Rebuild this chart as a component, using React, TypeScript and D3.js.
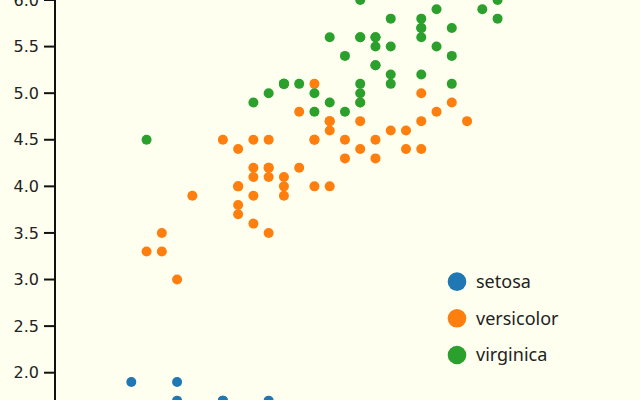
import React from "react";
import * as d3 from "d3";

const species = ["setosa", "versicolor", "virginica"];
const colors = ["#1f77b4", "#ff7f0e", "#2ca02c"];

const setosaSepal = [5.1,4.9,4.7,4.6,5.0,5.4,4.6,5.0,4.4,4.9,5.4,4.8,4.8,4.3,5.8,5.7,5.4,5.1,5.7,5.1,5.4,5.1,4.6,5.1,4.8,5.0,5.0,5.2,5.2,4.7,4.8,5.4,5.2,5.5,4.9,5.0,5.5,4.9,4.4,5.1,5.0,4.5,4.4,5.0,5.1,4.8,5.1,4.6,5.3,5.0];
const setosaPetal = [1.4,1.4,1.3,1.5,1.4,1.7,1.4,1.5,1.4,1.5,1.5,1.6,1.4,1.1,1.2,1.5,1.3,1.4,1.7,1.5,1.7,1.5,1.0,1.7,1.9,1.6,1.6,1.5,1.4,1.6,1.6,1.5,1.5,1.4,1.5,1.2,1.3,1.4,1.3,1.5,1.3,1.3,1.3,1.6,1.9,1.4,1.6,1.4,1.5,1.4];
const versicolorSepal = [7.0,6.4,6.9,5.5,6.5,5.7,6.3,4.9,6.6,5.2,5.0,5.9,6.0,6.1,5.6,6.7,5.6,5.8,6.2,5.6,5.9,6.1,6.3,6.1,6.4,6.6,6.8,6.7,6.0,5.7,5.5,5.5,5.8,6.0,5.4,6.0,6.7,6.3,5.6,5.5,5.5,6.1,5.8,5.0,5.6,5.7,5.7,6.2,5.1,5.7];
const versicolorPetal = [4.7,4.5,4.9,4.0,4.6,4.5,4.7,3.3,4.6,3.9,3.5,4.2,4.0,4.7,3.6,4.4,4.5,4.1,4.5,3.9,4.8,4.0,4.9,4.7,4.3,4.4,4.8,5.0,4.5,3.5,3.8,3.7,3.9,5.1,4.5,4.5,4.7,4.4,4.1,4.0,4.4,4.6,4.0,3.3,4.2,4.2,4.2,4.3,3.0,4.1];
const virginicaSepal = [6.3,5.8,7.1,6.3,6.5,7.6,4.9,7.3,6.7,7.2,6.5,6.4,6.8,5.7,5.8,6.4,6.5,7.7,7.7,6.0,6.9,5.6,7.7,6.3,6.7,7.2,6.2,6.1,6.4,7.2,7.4,7.9,6.4,6.3,6.1,7.7,6.3,6.4,6.0,6.9,6.7,6.9,5.8,6.8,6.7,6.7,6.3,6.5,6.2,5.9];
const virginicaPetal = [6.0,5.1,5.9,5.6,5.8,6.6,4.5,6.3,5.8,6.1,5.1,5.3,5.5,5.0,5.1,5.3,5.5,6.7,6.9,5.0,5.7,4.9,6.7,4.9,5.7,6.0,4.8,4.9,5.6,5.8,6.1,6.4,5.6,5.1,5.6,6.1,5.6,5.5,4.8,5.4,5.6,5.1,5.1,5.9,5.7,5.2,5.0,5.2,5.4,5.1];

const yTicks = [1.0,1.5,2.0,2.5,3.0,3.5,4.0,4.5,5.0,5.5,6.0,6.5];

const sepalSets = [setosaSepal, versicolorSepal, virginicaSepal];
const petalSets = [setosaPetal, versicolorPetal, virginicaPetal];

export default function App() {
  const W = 640, H = 400;
  const x = d3.scaleLinear().domain([4.3, 7.9]).range([55, 604.4]);
  const y = d3.scaleLinear().domain([2.0, 6.0]).range([372.7, 0]);
  const axisX = 55;
  const fmt = d3.format(".1f");
  const legendY = d3.scaleBand<string>().domain(species).range([263.3, 373.3]);

  return (
    <svg width={W} height={H} style={{ position: "absolute", left: 0, top: 0, background: "#fffff0", display: "block" }}>
      <rect x={0} y={0} width={W} height={H} fill="#fffff0" />
      <g>
        <line x1={axisX} x2={axisX} y1={y(0.5)} y2={y(7.5)} stroke="#111" strokeWidth={2} />
        {yTicks.map((t) => (
          <g key={t} transform={`translate(0,${y(t)})`}>
            <line x1={axisX - 11} x2={axisX} stroke="#111" strokeWidth={2} />
            <text x={axisX - 16} dy="0.35em" textAnchor="end" fontFamily="DejaVu Sans" fontSize={16} fill="#222">
              {fmt(t)}
            </text>
          </g>
        ))}
      </g>
      <g>
        {species.map((s, si) =>
          sepalSets[si].map((sv, i) => (
            <circle key={s + i} cx={x(sv)} cy={y(petalSets[si][i])} r={5} fill={colors[si]} />
          ))
        )}
      </g>
      <g>
        {species.map((s, si) => {
          const cy = (legendY(s) as number) + legendY.bandwidth() / 2;
          return (
            <g key={s} transform={`translate(457,${cy})`}>
              <circle r={9.3} fill={colors[si]} />
              <text x={19} dy="0.35em" fontFamily="Noto Sans" fontSize={18} fill="#222">{s}</text>
            </g>
          );
        })}
      </g>
    </svg>
  );
}
